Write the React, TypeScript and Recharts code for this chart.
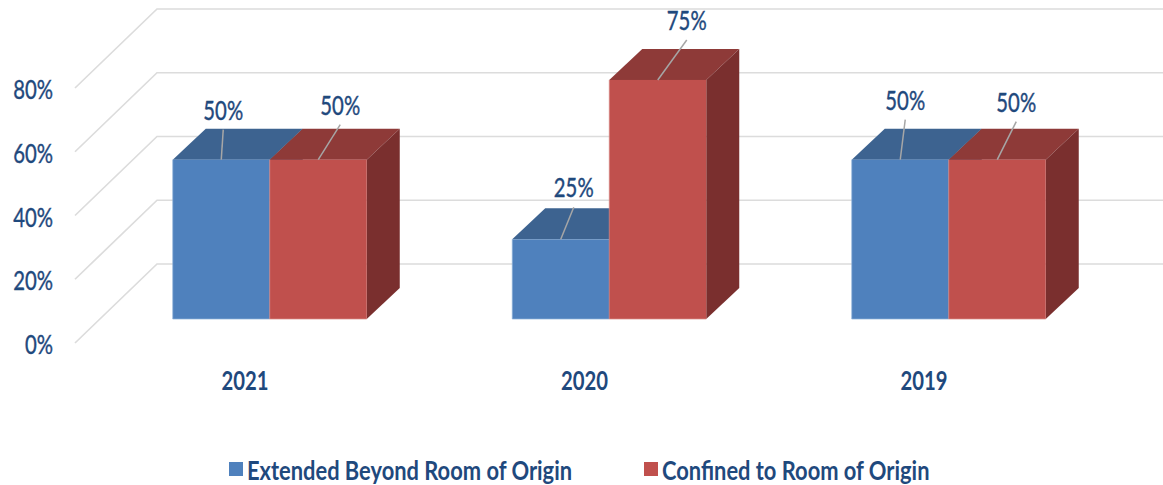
// 3D look clustered bars, faces are drawn from the bar rectangle recharts gives us
import { BarChart, Bar, XAxis, YAxis, CartesianGrid, Legend, LabelList } from 'recharts';

const years = ['2021', '2020', '2019'];
const extendedBeyond = [50, 25, 50];
const confinedToRoom = [50, 75, 50];
const percentTicks = [0, 20, 40, 60, 80];
const seriesNames = ['Extended Beyond Room of Origin', 'Confined to Room of Origin'];

const chartData = years.map((year, i) => ({
  year,
  extended: extendedBeyond[i],
  confined: confinedToRoom[i],
}));

// colours
const TEXT = '#1F497D';
const GRID = '#DCDCDC';
const LEADER = '#A6A6A6';
const BLUE = { front: '#4F81BD', top: '#3D6390', side: '#33537A', edge: '#8DB0D8' };
const RED = { front: '#C0504D', top: '#8E3A38', side: '#7A2F2E', edge: '#D98B88' };

// closest thing to the narrow calibri of the original: Lato squeezed horizontally
const FONT = 'Lato, sans-serif';
const SQUEEZE = 0.78;

// bar depth in the fake perspective
const DEPTH_X = 33;
const DEPTH_Y = 31;
// wall behind the bars relative to the bar front plane
const WALL_LEFT = 75;
const WALL_BACK = 157;
const WALL_DROP = 24;
const WALL_RISE = 55;

// labels were dragged by hand in the original, one shift per year
const extendedShift = [[2, -50], [13, -52], [5, -60]];
const confinedShift = [[22, -55], [29, -60], [19, -58]];

const Narrow = ({ x, y, anchor = 'middle', weight = 'normal', children }: any) => (
  <text
    transform={`translate(${x} ${y}) scale(${SQUEEZE} 1)`}
    textAnchor={anchor}
    dominantBaseline="central"
    fontFamily={FONT}
    fontSize={26}
    fontWeight={weight}
    fill={TEXT}
    stroke={weight === 'normal' ? TEXT : 'none'}
    strokeWidth={0.4}
  >
    {children}
  </text>
);

const Box = (colors: typeof BLUE) => (props: any) => {
  const { x, y, width, height } = props;
  const r = x + width;
  const b = y + height;
  return (
    <g>
      <polygon
        points={`${x},${y} ${x + DEPTH_X},${y - DEPTH_Y} ${r + DEPTH_X},${y - DEPTH_Y} ${r},${y}`}
        fill={colors.top}
      />
      <polygon
        points={`${r},${y} ${r + DEPTH_X},${y - DEPTH_Y} ${r + DEPTH_X},${b - DEPTH_Y} ${r},${b}`}
        fill={colors.side}
      />
      <rect x={x} y={y} width={width} height={height} fill={colors.front} />
      <polyline
        points={`${x},${y} ${x},${b} ${r},${b}`}
        fill="none"
        stroke={colors.edge}
        strokeOpacity={0.7}
        strokeWidth={1}
      />
    </g>
  );
};

const WallLine = (props: any) => {
  const y = props.y1;
  return (
    <g key={props.key}>
      <polyline
        points={`${WALL_LEFT},${y + WALL_DROP} ${WALL_BACK},${y - WALL_RISE} 1163,${y - WALL_RISE}`}
        fill="none"
        stroke={GRID}
        strokeWidth={1.7}
      />
    </g>
  );
};

const YTick = (props: any) => (
  <Narrow x={53} y={props.y + 25} anchor="end">
    {props.payload.value}%
  </Narrow>
);

const XTick = (props: any) => (
  <Narrow x={props.x - 24.5} y={380} weight="bold">
    {props.payload.value}
  </Narrow>
);

const leaderLabel = (shifts: number[][]) => (props: any) => {
  const { x, y, width, value, index } = props;
  const [dx, dy] = shifts[index];
  const cx = x + width / 2;
  return (
    <g>
      <line x1={cx} y1={y} x2={cx + dx} y2={y + dy + 20} stroke={LEADER} strokeWidth={1.5} />
      <Narrow x={cx + dx} y={y + dy}>
        {value}%
      </Narrow>
    </g>
  );
};

const LegendRow = (props: any) => {
  const left = [229, 644];
  return (
    <div style={{ position: 'relative', height: 30, width: 1163 }}>
      {props.payload.map((item: any, i: number) => (
        <div
          key={item.value}
          style={{ position: 'absolute', left: left[i], top: 0, display: 'flex', alignItems: 'center', height: 30 }}
        >
          <span style={{ width: 14, height: 14, background: item.color, marginRight: 4 }} />
          <span
            style={{
              fontFamily: FONT,
              fontSize: 27,
              fontWeight: 'bold',
              color: TEXT,
              whiteSpace: 'nowrap',
              transform: 'scaleX(0.81)',
              transformOrigin: 'left center',
            }}
          >
            {item.value}
          </span>
        </div>
      ))}
    </div>
  );
};

export default function App() {
  return (
    <div style={{ position: 'absolute', left: 0, top: 0, background: '#fff' }}>
      <BarChart
        width={1163}
        height={485}
        data={chartData}
        barSize={97}
        barGap={0}
        margin={{ top: 64, right: 44.75, left: 0, bottom: 106 }}
      >
        <CartesianGrid vertical={false} horizontal={WallLine} />
        <XAxis dataKey="year" axisLine={false} tickLine={false} tick={XTick} interval={0} height={30} />
        <YAxis
          width={99.75}
          domain={[0, 80]}
          ticks={percentTicks}
          axisLine={false}
          tickLine={false}
          tick={YTick}
        />
        <Legend
          content={LegendRow}
          itemSorter={null as any}
          wrapperStyle={{ left: 0, top: 454, width: 1163, height: 30 }}
        />
        <Bar
          dataKey="extended"
          name={seriesNames[0]}
          fill={BLUE.front}
          shape={Box(BLUE)}
          isAnimationActive={false}
        >
          <LabelList dataKey="extended" content={leaderLabel(extendedShift)} />
        </Bar>
        <Bar
          dataKey="confined"
          name={seriesNames[1]}
          fill={RED.front}
          shape={Box(RED)}
          isAnimationActive={false}
        >
          <LabelList dataKey="confined" content={leaderLabel(confinedShift)} />
        </Bar>
      </BarChart>
    </div>
  );
}
